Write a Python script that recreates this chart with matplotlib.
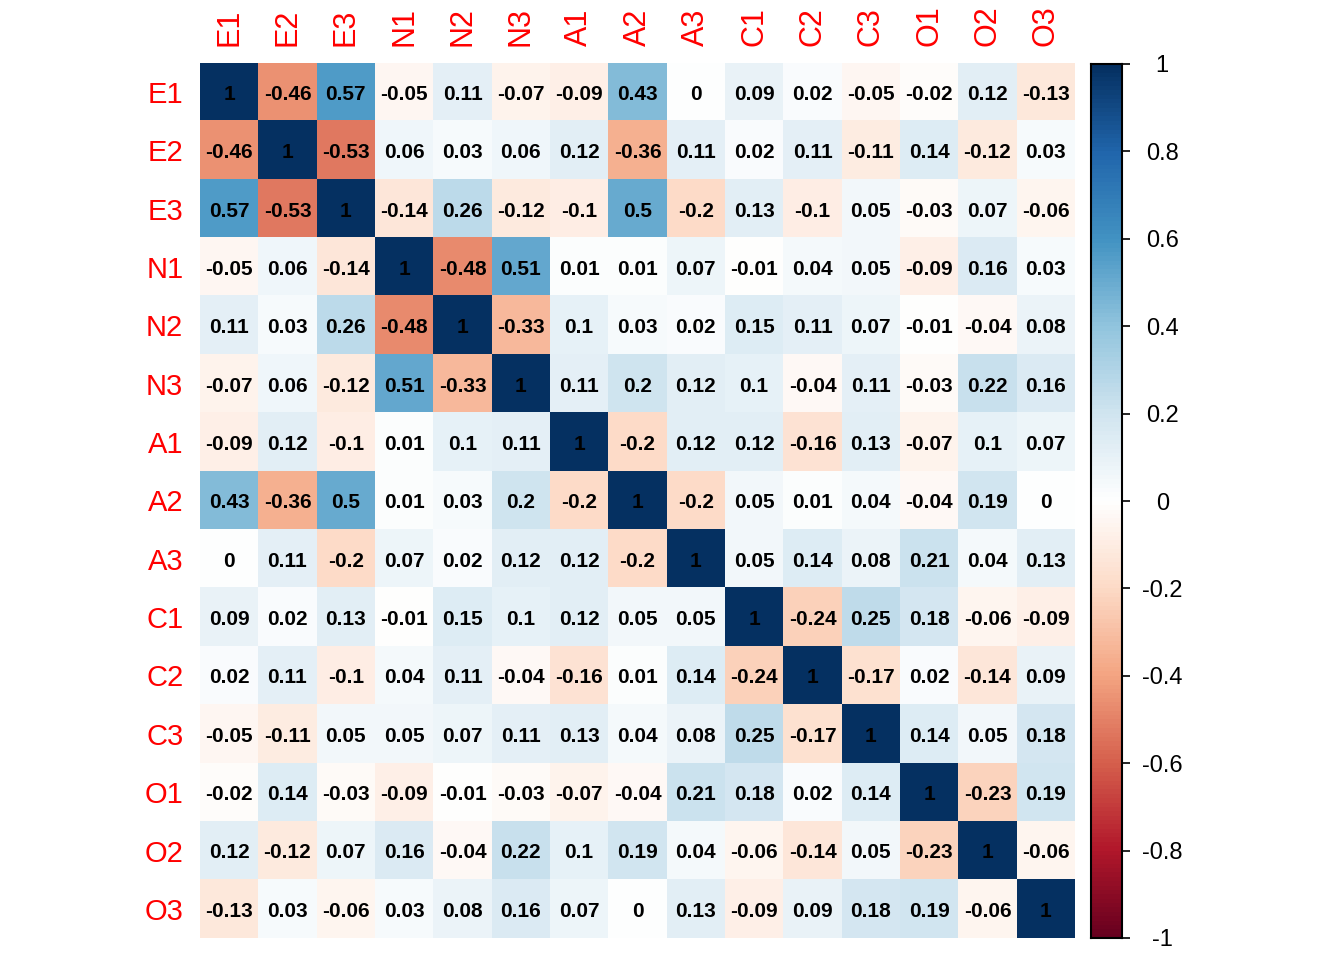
import numpy as np
import matplotlib
matplotlib.use("Agg")
import matplotlib.pyplot as plt
from matplotlib.colors import LinearSegmentedColormap

plt.rcParams['font.family'] = ['Liberation Sans', 'DejaVu Sans']

labels = ['E1', 'E2', 'E3', 'N1', 'N2', 'N3', 'A1', 'A2', 'A3',
          'C1', 'C2', 'C3', 'O1', 'O2', 'O3']

# correlation matrix, one row per variable
E1 = [1, -0.46, 0.57, -0.05, 0.11, -0.07, -0.09, 0.43, 0, 0.09, 0.02, -0.05, -0.02, 0.12, -0.13]
E2 = [-0.46, 1, -0.53, 0.06, 0.03, 0.06, 0.12, -0.36, 0.11, 0.02, 0.11, -0.11, 0.14, -0.12, 0.03]
E3 = [0.57, -0.53, 1, -0.14, 0.26, -0.12, -0.1, 0.5, -0.2, 0.13, -0.1, 0.05, -0.03, 0.07, -0.06]
N1 = [-0.05, 0.06, -0.14, 1, -0.48, 0.51, 0.01, 0.01, 0.07, -0.01, 0.04, 0.05, -0.09, 0.16, 0.03]
N2 = [0.11, 0.03, 0.26, -0.48, 1, -0.33, 0.1, 0.03, 0.02, 0.15, 0.11, 0.07, -0.01, -0.04, 0.08]
N3 = [-0.07, 0.06, -0.12, 0.51, -0.33, 1, 0.11, 0.2, 0.12, 0.1, -0.04, 0.11, -0.03, 0.22, 0.16]
A1 = [-0.09, 0.12, -0.1, 0.01, 0.1, 0.11, 1, -0.2, 0.12, 0.12, -0.16, 0.13, -0.07, 0.1, 0.07]
A2 = [0.43, -0.36, 0.5, 0.01, 0.03, 0.2, -0.2, 1, -0.2, 0.05, 0.01, 0.04, -0.04, 0.19, 0]
A3 = [0, 0.11, -0.2, 0.07, 0.02, 0.12, 0.12, -0.2, 1, 0.05, 0.14, 0.08, 0.21, 0.04, 0.13]
C1 = [0.09, 0.02, 0.13, -0.01, 0.15, 0.1, 0.12, 0.05, 0.05, 1, -0.24, 0.25, 0.18, -0.06, -0.09]
C2 = [0.02, 0.11, -0.1, 0.04, 0.11, -0.04, -0.16, 0.01, 0.14, -0.24, 1, -0.17, 0.02, -0.14, 0.09]
C3 = [-0.05, -0.11, 0.05, 0.05, 0.07, 0.11, 0.13, 0.04, 0.08, 0.25, -0.17, 1, 0.14, 0.05, 0.18]
O1 = [-0.02, 0.14, -0.03, -0.09, -0.01, -0.03, -0.07, -0.04, 0.21, 0.18, 0.02, 0.14, 1, -0.23, 0.19]
O2 = [0.12, -0.12, 0.07, 0.16, -0.04, 0.22, 0.1, 0.19, 0.04, -0.06, -0.14, 0.05, -0.23, 1, -0.06]
O3 = [-0.13, 0.03, -0.06, 0.03, 0.08, 0.16, 0.07, 0, 0.13, -0.09, 0.09, 0.18, 0.19, -0.06, 1]

cbar_ticks = [-1, -0.8, -0.6, -0.4, -0.2, 0, 0.2, 0.4, 0.6, 0.8, 1]

corr = np.array([E1, E2, E3, N1, N2, N3, A1, A2, A3, C1, C2, C3, O1, O2, O3])
n = len(labels)

# corrplot style RdBu palette
cols = ["#67001F", "#B2182B", "#D6604D", "#F4A582", "#FDDBC7", "#FFFFFF",
        "#D1E5F0", "#92C5DE", "#4393C3", "#2166AC", "#053061"]
cmap = LinearSegmentedColormap.from_list("corrRdBu", cols, N=200)

W, H = 1344, 960
fig = plt.figure(figsize=(W / 100, H / 100), dpi=100)

ax = fig.add_axes([200 / W, 22 / H, 875 / W, 875 / H])
ax.imshow(corr, cmap=cmap, vmin=-1, vmax=1, aspect='auto', interpolation='nearest')

for i in range(n):
    for j in range(n):
        v = corr[i, j]
        txt = ('%g' % v) if v != 0 else '0'
        ax.text(j, i + 0.04, txt, ha='center', va='center', fontsize=15,
                fontweight='bold', color='black')

ax.set_xticks(range(n))
ax.set_yticks(range(n))
ax.xaxis.tick_top()
ax.set_xticklabels(labels, rotation=90, color='red', fontsize=22)
ax.set_yticklabels(labels, color='red', fontsize=21)
ax.tick_params(length=0, pad=12)
for s in ax.spines.values():
    s.set_visible(False)

# colour legend
cax = fig.add_axes([1091 / W, 22 / H, 31 / W, 874 / H])
grad = np.linspace(1, -1, 400).reshape(-1, 1)
cax.imshow(grad, cmap=cmap, vmin=-1, vmax=1, aspect='auto',
           extent=[0, 1, -1, 1], interpolation='nearest')
cax.set_xlim(0, 1)
cax.set_ylim(-1, 1)
cax.set_xticks([])
cax.yaxis.tick_right()
cax.set_yticks(cbar_ticks)
cax.set_yticklabels(['%g' % t for t in cbar_ticks], fontsize=17)
for lab in cax.get_yticklabels():
    lab.set_horizontalalignment('center')
cax.tick_params(axis='y', length=6, width=1.2, pad=23)
for s in cax.spines.values():
    s.set_linewidth(1.5)
    s.set_color('black')

fig.savefig('out.png', dpi=100)
